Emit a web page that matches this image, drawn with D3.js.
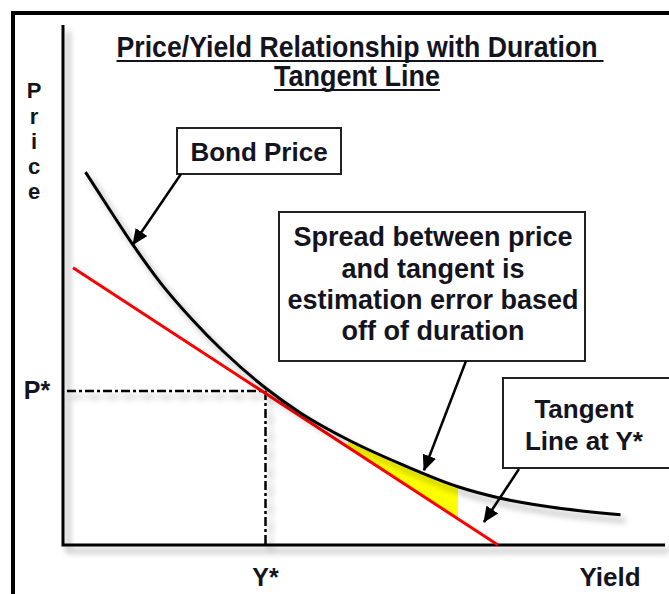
<!DOCTYPE html>
<html><head><meta charset="utf-8">
<script src="https://cdn.jsdelivr.net/npm/d3@7"></script>
<style>
html,body{margin:0;padding:0;background:#fff;}
svg{display:block;font-family:"Liberation Sans",Arial,sans-serif;font-weight:bold;}
</style></head><body>
<svg id="chart" width="669" height="594"></svg>
<script>
// ---- data ----
const curveYield = [0.45, 0.9, 1.4, 1.95, 2.55, 3.2, 4.05, 4.75, 5.75, 6.75, 7.9, 8.75, 9.75, 11.15];
const curvePrice = [71.7, 65.0, 57.7, 50.4, 43.7, 37.3, 30.2, 25.4, 20.0, 15.6, 11.2, 9.0, 7.3, 5.8];
const tangentYield = [0.2, 8.7];
const tangentPrice = [53.3, 0];
const starYield = [4.05];
const starPrice = [29.6];
const shadeYield = [5.7, 7.9];
const titleLines = ["Price/Yield Relationship with Duration", "Tangent Line"];
const yAxisLetters = ["P", "r", "i", "c", "e"];
const tickLabels = {x: ["Y*"], y: ["P*"]};
const axisTitle = "Yield";
const bondLabel = ["Bond Price"];
const spreadLabel = ["Spread between price", "and tangent is", "estimation error based", "off of duration"];
const tangentLabel = ["Tangent", "Line at Y*"];

// ---- setup ----
const svg = d3.select("#chart");
const x = d3.scaleLinear().domain([0, 12]).range([63, 663]);
const y = d3.scaleLinear().domain([0, 100]).range([545, 25]);
const ink = "#141420";

const defs = svg.append("defs");
const f = defs.append("filter").attr("id", "shadow").attr("x", "-20%").attr("y", "-20%").attr("width", "140%").attr("height", "140%");
f.append("feGaussianBlur").attr("in", "SourceAlpha").attr("stdDeviation", 3).attr("result", "b");
f.append("feOffset").attr("in", "b").attr("dx", 5).attr("dy", 6).attr("result", "o");
f.append("feComponentTransfer").attr("in", "o").attr("result", "o2")
  .append("feFuncA").attr("type", "linear").attr("slope", 0.35);
const fm = f.append("feMerge");
fm.append("feMergeNode").attr("in", "o2");
fm.append("feMergeNode").attr("in", "SourceGraphic");

defs.append("marker").attr("id", "arrow").attr("viewBox", "0 0 16 14")
  .attr("refX", 15).attr("refY", 7).attr("markerWidth", 16).attr("markerHeight", 14)
  .attr("markerUnits", "userSpaceOnUse").attr("orient", "auto")
  .append("path").attr("d", "M0,0 L16,7 L0,14 Z").attr("fill", "#000");

// outer frame
svg.append("rect").attr("x", 13).attr("y", 13).attr("width", 720).attr("height", 700)
  .attr("fill", "none").attr("stroke", "#000").attr("stroke-width", 4);

// axes
const axes = svg.append("g").attr("filter", "url(#shadow)");
axes.append("path")
  .attr("d", `M${x(0)},${y(100)} L${x(0)},${y(0)} L${x(12)+2},${y(0)}`)
  .attr("fill", "none").attr("stroke", "#000").attr("stroke-width", 3);

// shaded spread region
const curveAt = d3.scaleLinear().domain(curveYield).range(curvePrice);
const tanAt = d3.scaleLinear().domain(tangentYield).range(tangentPrice);
const shadeX = d3.range(shadeYield[0], shadeYield[1] + 1e-9, (shadeYield[1] - shadeYield[0]) / 30);
svg.append("path").datum(shadeX)
  .attr("d", d3.area().x(d => x(d)).y0(d => y(tanAt(d))).y1(d => y(curveAt(d))))
  .attr("fill", "#ffff00");

// P* / Y* dash-dot guides
const guide = svg.append("g").attr("filter", "url(#shadow)");
guide.append("line").attr("x1", x(0) + 4).attr("x2", x(starYield[0])).attr("y1", y(starPrice[0])).attr("y2", y(starPrice[0]))
  .attr("stroke", "#000").attr("stroke-width", 2.5).attr("stroke-dasharray", "9 3 3 3");
guide.append("line").attr("x1", x(starYield[0])).attr("x2", x(starYield[0])).attr("y1", y(starPrice[0])).attr("y2", y(0))
  .attr("stroke", "#000").attr("stroke-width", 2.5).attr("stroke-dasharray", "9 3 3 3");

// tangent line
svg.append("path").datum(d3.zip(tangentYield, tangentPrice))
  .attr("d", d3.line().x(d => x(d[0])).y(d => y(d[1])))
  .attr("fill", "none").attr("stroke", "#ff0000").attr("stroke-width", 3);

// bond price curve
svg.append("path").datum(d3.zip(curveYield, curvePrice))
  .attr("filter", "url(#shadow)")
  .attr("d", d3.line().x(d => x(d[0])).y(d => y(d[1])).curve(d3.curveMonotoneX))
  .attr("fill", "none").attr("stroke", "#000").attr("stroke-width", 3);

// title (condensed bold)
const title = svg.append("g").attr("fill", ink).attr("font-size", 29).attr("text-anchor", "middle")
  .style("font-family", "'Liberation Sans Narrow','Arial Narrow','Liberation Sans',Arial,sans-serif");
const titleY = [57, 86];
const titleW = [481, 166];
titleLines.forEach((t, i) => {
  title.append("text").attr("x", 357).attr("y", titleY[i])
    .attr("textLength", titleW[i]).attr("lengthAdjust", "spacingAndGlyphs").text(t);
  const w = titleW[i];
  title.append("line").attr("x1", 357 - w / 2).attr("x2", 357 + w / 2 + (i === 0 ? 6 : 0))
    .attr("y1", titleY[i] + 4).attr("y2", titleY[i] + 4).attr("stroke", ink).attr("stroke-width", 2);
});

// vertical "Price" axis title
const letterY = [98, 124, 149, 174, 199];
svg.append("g").attr("fill", ink).attr("font-size", 22).attr("text-anchor", "middle")
  .selectAll("text").data(yAxisLetters).join("text")
  .attr("x", 34).attr("y", (d, i) => letterY[i]).text(d => d);

// tick labels
svg.append("text").attr("x", 37).attr("y", y(starPrice[0]) + 8).attr("text-anchor", "middle")
  .attr("font-size", 25).attr("fill", ink).text(tickLabels.y[0]);
svg.append("text").attr("x", x(starYield[0])).attr("y", 586).attr("text-anchor", "middle")
  .attr("font-size", 25).attr("fill", ink).text(tickLabels.x[0]);
svg.append("text").attr("x", 610).attr("y", 586).attr("text-anchor", "middle")
  .attr("font-size", 26).attr("fill", ink).text(axisTitle);

// callout boxes
function box(x0, y0, w, h, lines, cx, baselines, fs) {
  svg.append("rect").attr("x", x0).attr("y", y0).attr("width", w).attr("height", h)
    .attr("fill", "#fff").attr("stroke", "#222").attr("stroke-width", 2);
  svg.append("g").attr("fill", ink).attr("font-size", fs).attr("text-anchor", "middle")
    .selectAll("text").data(lines).join("text")
    .attr("x", cx).attr("y", (d, i) => baselines[i]).text(d => d);
}
box(177, 128, 164, 46, bondLabel, 259, [161], 26);
box(279, 212, 306, 149, spreadLabel, 433, [246, 278, 309, 340], 27);
box(503, 378, 180, 90, tangentLabel, 584, [418, 450], 26);

// arrows
function arrow(x1, y1, x2, y2) {
  svg.append("line").attr("x1", x1).attr("y1", y1).attr("x2", x2).attr("y2", y2)
    .attr("stroke", "#000").attr("stroke-width", 2.5).attr("marker-end", "url(#arrow)");
}
arrow(181, 174, x(1.38) + 1, y(curveAt(1.38)) + 1);
arrow(466, 361, x(7.22), y(curveAt(7.22)) - 3);
arrow(519, 469, 484, 522);
</script>
</body></html>
